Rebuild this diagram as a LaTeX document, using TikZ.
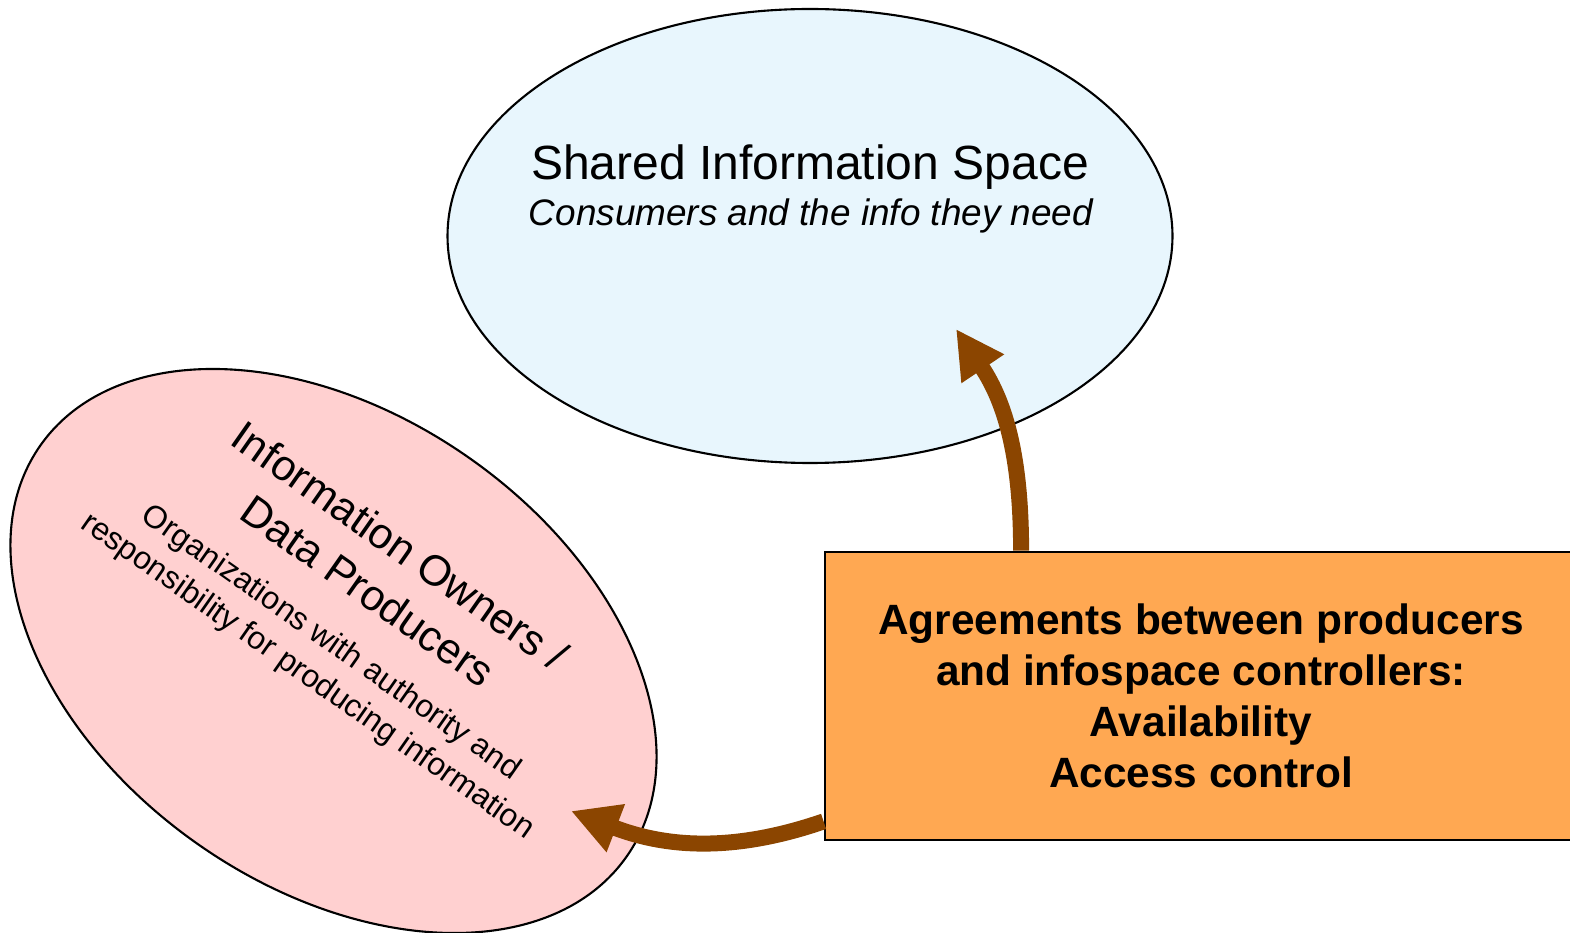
\documentclass[tikz,border=0pt]{standalone}
\usepackage{fontspec}
\setmainfont{Liberation Sans}
\usetikzlibrary{shapes.geometric,arrows.meta}
\definecolor{skyfill}{HTML}{E8F6FD}
\definecolor{pinkfill}{HTML}{FFD0D0}
\definecolor{orangefill}{HTML}{FFA852}
\definecolor{arrowbrown}{HTML}{8B4500}
\tikzset{
  bubble/.style={ellipse, draw=black, line width=0.6pt, inner sep=0pt},
  agreebox/.style={rectangle, draw=black, line width=0.8pt, fill=orangefill, inner sep=0pt, align=center},
  bigarrow/.style={draw=arrowbrown, line width=0.16cm, -{Triangle[length=0.48cm,width=0.48cm]}},
}
\begin{document}
\begin{tikzpicture}
\useasboundingbox (0,0) rectangle (15.70,-9.33);
% top ellipse
\node[bubble, fill=skyfill, minimum width=7.25cm, minimum height=4.54cm] (space) at (8.10,-2.36) {};
\node[anchor=base, font=\fontsize{13.66pt}{16pt}\selectfont] (spacetitle) at (8.10,-1.80) {Shared Information Space};
\node[anchor=base, font=\fontsize{10.5pt}{12pt}\selectfont\itshape] (spacesub) at (8.11,-2.26) {Consumers and the info they need};
% left ellipse
\node[bubble, fill=pinkfill, minimum width=7.16cm, minimum height=4.72cm, rotate=-35] (owners) at (3.335,-6.51) {};
\node[rotate=-35, align=center, inner sep=0pt, font=\fontsize{12.2pt}{15.7pt}\selectfont] (ownerstitle) at (3.84,-5.68) {Information Owners /\\Data Producers};
\node[rotate=-35, align=center, inner sep=0pt, font=\fontsize{9.05pt}{11.55pt}\selectfont] (ownerssub) at (3.19,-6.60) {Organizations with authority and\\responsibility for producing information};
% agreements box
\node[agreebox, minimum width=7.52cm, minimum height=2.88cm, font=\fontsize{12.06pt}{14.5pt}\selectfont\bfseries] (box) at (12.01,-6.96) {Agreements between producers\\and infospace controllers:\\Availability\\Access control};
% arrows
\coordinate (tipup) at (9.56,-3.29);
\coordinate (tipleft) at (5.71,-8.11);
\draw[bigarrow] ([xshift=1.975cm]box.north west) to[out=90, in=-56] (tipup);
\draw[bigarrow] ([yshift=0.20cm]box.south west) to[out=199, in=-21] (tipleft);
\end{tikzpicture}
\end{document}
